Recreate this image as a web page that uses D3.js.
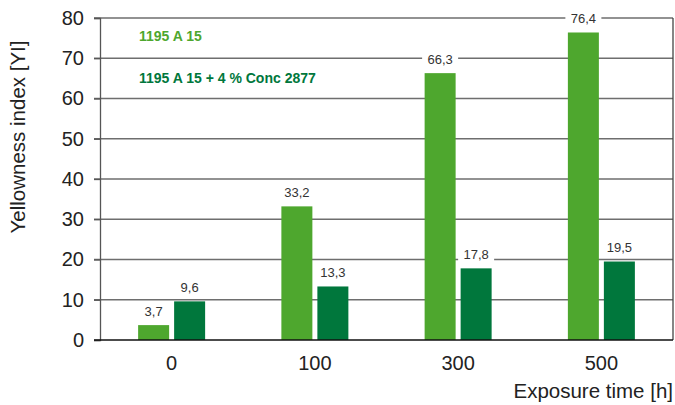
<!DOCTYPE html>
<html>
<head>
<meta charset="utf-8">
<script src="https://cdn.jsdelivr.net/npm/d3@7"></script>
<style>
  body { margin: 0; background: #fff; }
  text { font-family: "Liberation Sans", Arial, sans-serif; }
</style>
</head>
<body>
<div id="chart"></div>
<script>
// data
var categories = ["0", "100", "300", "500"]
var seriesNames = ["1195 A 15", "1195 A 15 + 4 % Conc 2877"]
var valuesBase = [3.7, 33.2, 66.3, 76.4]
var valuesConc = [9.6, 13.3, 17.8, 19.5]
var yTicks = [0, 10, 20, 30, 40, 50, 60, 70, 80]

var COLORS = ["#4ea72e", "#00773c"]
var WIDTH = 675, HEIGHT = 405
var MARGIN = {TOP: 18, RIGHT: 2, BOTTOM: 65, LEFT: 100}

var svg = d3.select("#chart").append("svg")
  .attr("width", WIDTH)
  .attr("height", HEIGHT)

var x = d3.scaleBand()
  .domain(categories)
  .range([MARGIN.LEFT, WIDTH - MARGIN.RIGHT])

var y = d3.scaleLinear()
  .domain([0, 80])
  .range([HEIGHT - MARGIN.BOTTOM, MARGIN.TOP])

var BAR_W = 31, GAP = 5

// gridlines
svg.append("g").selectAll("line")
  .data(yTicks.filter(function(d){ return d > 0 }))
  .enter().append("line")
  .attr("x1", MARGIN.LEFT - 6)
  .attr("x2", WIDTH - MARGIN.RIGHT)
  .attr("y1", function(d){ return y(d) })
  .attr("y2", function(d){ return y(d) })
  .style("stroke", "#6e6e6e")
  .style("stroke-width", 1.3)

// right border
svg.append("line")
  .attr("x1", WIDTH - MARGIN.RIGHT).attr("x2", WIDTH - MARGIN.RIGHT)
  .attr("y1", y(80)).attr("y2", y(0))
  .style("stroke", "#444").style("stroke-width", 1.3)

// left axis
var yAxis = d3.axisLeft(y).tickValues(yTicks).tickSize(6).tickPadding(10)
var gy = svg.append("g")
  .attr("transform", "translate(" + MARGIN.LEFT + ",0)")
  .call(yAxis)
gy.select(".domain").style("stroke", "#555").style("stroke-width", 1.3)
gy.selectAll(".tick line").style("stroke", "#555").style("stroke-width", 1.3)
gy.selectAll("text")
  .style("font-size", "20px")
  .style("fill", "#222")

// bars
var series = [valuesBase, valuesConc]
series.forEach(function(vals, s){
  var offset = s == 0 ? -(BAR_W + GAP / 2) : GAP / 2
  var g = svg.append("g")
  g.selectAll("rect")
    .data(vals)
    .enter().append("rect")
    .attr("x", function(d, i){ return x(categories[i]) + x.bandwidth() / 2 + offset })
    .attr("y", function(d){ return y(d) })
    .attr("width", BAR_W)
    .attr("height", function(d){ return y(0) - y(d) })
    .style("fill", COLORS[s])

  // value labels with white boxes
  var lab = g.selectAll("g.lab")
    .data(vals)
    .enter().append("g")
    .attr("class", "lab")
    .attr("transform", function(d, i){
      return "translate(" + (x(categories[i]) + x.bandwidth() / 2 + offset + BAR_W / 2) + "," + (y(d) - 14) + ")"
    })
  lab.append("rect")
    .attr("x", -18).attr("y", -8)
    .attr("width", 36).attr("height", 16)
    .style("fill", "#fff")
  lab.append("text")
    .attr("text-anchor", "middle")
    .attr("dy", "0.36em")
    .style("font-size", "13px")
    .style("fill", "#333")
    .text(function(d){ return String(d).replace(".", ",") })
})

// bottom axis
svg.append("line")
  .attr("x1", MARGIN.LEFT - 6).attr("x2", WIDTH - MARGIN.RIGHT)
  .attr("y1", y(0)).attr("y2", y(0))
  .style("stroke", "#111").style("stroke-width", 1.5)

svg.append("g").selectAll("text")
  .data(categories)
  .enter().append("text")
  .attr("x", function(d){ return x(d) + x.bandwidth() / 2 })
  .attr("y", y(0) + 30)
  .attr("text-anchor", "middle")
  .style("font-size", "20px")
  .style("fill", "#222")
  .text(function(d){ return d })

// axis titles
svg.append("text")
  .attr("transform", "translate(25,137) rotate(-90)")
  .attr("text-anchor", "middle")
  .style("font-size", "20.5px")
  .style("fill", "#222")
  .text("Yellowness index [YI]")

svg.append("text")
  .attr("x", WIDTH - 2)
  .attr("y", 398)
  .attr("text-anchor", "end")
  .style("font-size", "20.5px")
  .style("fill", "#222")
  .text("Exposure time [h]")

// legend
svg.append("g").selectAll("text")
  .data(seriesNames)
  .enter().append("text")
  .attr("x", 139)
  .attr("y", function(d, i){ return 41 + i * 42 })
  .style("font-size", "14px")
  .style("font-weight", "bold")
  .style("fill", function(d, i){ return COLORS[i] })
  .text(function(d){ return d })
</script>
</body>
</html>
